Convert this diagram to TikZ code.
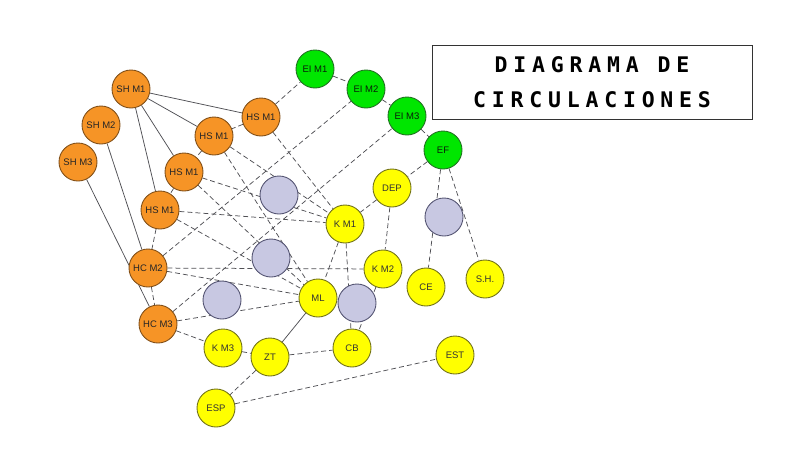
\documentclass[tikz,border=0pt]{standalone}
\usepackage{fontspec}
\setmainfont{Liberation Sans}
\newfontfamily\titlefont[LetterSpace=27]{DejaVu Sans Mono Bold}
\usepackage{tikz}
\usetikzlibrary{positioning, backgrounds}
\definecolor{c_orange}{RGB}{246,148,38}
\definecolor{c_orange_dark}{RGB}{130,80,25}
\definecolor{c_green}{RGB}{0,230,0}
\definecolor{c_green_dark}{RGB}{35,115,35}
\definecolor{c_yellow}{RGB}{255,255,0}
\definecolor{c_yellow_dark}{RGB}{115,115,25}
\definecolor{c_lilac}{RGB}{200,200,226}
\definecolor{c_lilac_dark}{RGB}{85,85,115}
\definecolor{c_link}{RGB}{80,80,85}
\tikzstyle{zone} = [circle, draw, line width=0.9pt, minimum size=38pt, inner sep=0pt, font=\fontsize{9.5}{11}\selectfont]
\tikzstyle{orange_zone} = [zone, fill=c_orange, draw=c_orange_dark, text=black!85]
\tikzstyle{green_zone} = [zone, fill=c_green, draw=c_green_dark, text=black!75!c_green_dark]
\tikzstyle{yellow_zone} = [zone, fill=c_yellow, draw=c_yellow_dark, text=black!80]
\tikzstyle{empty_zone} = [zone, fill=c_lilac, draw=c_lilac_dark]
\tikzstyle{link} = [c_link, line width=0.75pt]
\tikzstyle{link_dashed} = [link, dash pattern=on 5pt off 3pt]

\begin{document}
\begin{tikzpicture}[x=1pt, y=-1pt]
        \useasboundingbox (0,0) rectangle (800,450);

        % title
        \node (title) [draw=black!80, line width=0.8pt, minimum width=320pt, minimum height=74pt, inner sep=0pt, align=center, font=\titlefont\fontsize{21.5}{35}\selectfont] at (592,82) {DIAGRAMA DE\\CIRCULACIONES};

        % orange zones
        \node (shm1) [orange_zone] at (131,89) {SH M1};
        \node (shm2) [orange_zone] at (101,125) {SH M2};
        \node (shm3) [orange_zone] at (78,162) {SH M3};
        \node (hsm1_a) [orange_zone] at (261,117) {HS M1};
        \node (hsm1_b) [orange_zone] at (214,136) {HS M1};
        \node (hsm1_c) [orange_zone] at (184,172) {HS M1};
        \node (hsm1_d) [orange_zone] at (160,210) {HS M1};
        \node (hcm2) [orange_zone] at (148,268) {HC M2};
        \node (hcm3) [orange_zone] at (158,324) {HC M3};

        % green zones
        \node (eim1) [green_zone] at (315,69) {EI M1};
        \node (eim2) [green_zone] at (366,89) {EI M2};
        \node (eim3) [green_zone] at (407,116) {EI M3};
        \node (ef) [green_zone] at (443,150) {EF};

        % yellow zones
        \node (dep) [yellow_zone] at (392,188) {DEP};
        \node (km1) [yellow_zone] at (345,224) {K M1};
        \node (km2) [yellow_zone] at (383,269) {K M2};
        \node (ce) [yellow_zone] at (426,287) {CE};
        \node (sh) [yellow_zone] at (485,279) {S.H.};
        \node (ml) [yellow_zone] at (318,298) {ML};
        \node (km3) [yellow_zone] at (223,348) {K M3};
        \node (zt) [yellow_zone] at (270,357) {ZT};
        \node (cb) [yellow_zone] at (352,348) {CB};
        \node (est) [yellow_zone] at (455,355) {EST};
        \node (esp) [yellow_zone] at (216,408) {ESP};

        % empty zones
        \node (void_a) [empty_zone] at (279,195) {};
        \node (void_b) [empty_zone] at (271,258) {};
        \node (void_c) [empty_zone] at (222,300) {};
        \node (void_d) [empty_zone] at (357,303) {};
        \node (void_e) [empty_zone] at (444,217) {};

        \begin{pgfonlayer}{background}
        % solid links
        \foreach \a/\b in {shm1/hsm1_a, shm1/hsm1_b, shm1/hsm1_c, shm1/hsm1_d, shm2/hcm2, shm3/hcm3, ml/zt}
            \draw [link] (\a) -- (\b);
        % dashed links
        \foreach \a/\b in {hsm1_a/eim1, eim1/eim2, eim2/eim3, eim3/ef,
                hsm1_a/hsm1_b, hsm1_b/hsm1_c, hsm1_c/hsm1_d, hsm1_d/hcm2, hcm2/hcm3,
                hcm3/km3, km3/zt, zt/cb, zt/esp, esp/est,
                ef/dep, dep/km1, dep/km2, ef/ce, ef/sh,
                km1/ml, km1/cb, km2/cb,
                hcm2/km2, hcm2/ml, hcm3/ml, hcm3/eim3, hcm2/eim2,
                hsm1_a/km1, hsm1_b/km1, hsm1_c/km1, hsm1_d/km1,
                hsm1_b/ml, hsm1_c/ml, hsm1_d/ml}
            \draw [link_dashed] (\a) -- (\b);
        \end{pgfonlayer}

    \end{tikzpicture}
\end{document}
